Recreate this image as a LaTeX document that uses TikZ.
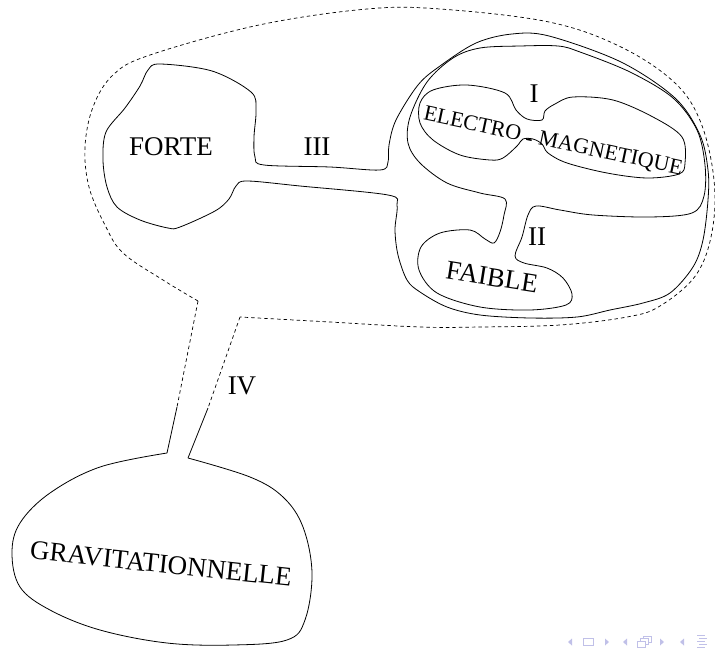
\documentclass[tikz,border=0pt]{standalone}
\usepackage{fontspec}
\setmainfont{Liberation Serif}
\usetikzlibrary{positioning}
\definecolor{navblue}{RGB}{192,192,232}
\tikzset{
  outline/.style={black, line width=0.8pt},
  boundary/.style={black, line width=0.7pt, dashed, dash pattern=on 3.5pt off 3pt},
  biglab/.style={font=\fontsize{27}{30}\selectfont, inner sep=0pt},
  emlab/.style={font=\fontsize{22}{25}\selectfont, inner sep=0pt},
  navsym/.style={navblue, line width=0.8pt},
}
\begin{document}
\begin{tikzpicture}[x=1pt,y=-1pt]
  \path[use as bounding box] (0,0) rectangle (715,648);

  % Forte blob, channel III and outer contour of the unified region.
  \draw[outline] plot[smooth cycle, tension=0.55] coordinates {
    (160,64) (212,71) (251,92) (256,110) (254,137) (255,157) (264,165)
    (330,167) (380,170) (388,162) (389,145) (396,120) (418,85) (440,66)
    (476,43) (512,34) (549,36) (621,62) (675,98) (700,135) (708,170)
    (708,200) (703,240) (693,267) (670,293) (643,303) (610,310) (577,317)
    (530,318) (480,315) (447,307) (420,292) (407,280) (398,255) (395,230)
    (397,205) (388,195) (300,186) (247,181) (236,186) (229,199) (215,211)
    (180,227) (168,228) (140,220) (117,207) (107,187) (103,160) (106,132)
    (125,108) (140,86) (148,70)};

  % Electroweak contour with channel II and the faible blob.
  \draw[outline] plot[smooth cycle, tension=0.55] coordinates {
    (408,143) (410,117) (427,82) (453,58) (480,48) (520,46) (558,46)
    (580,52) (630,72) (673,98) (697,130) (705,165) (704,196) (692,213)
    (650,217) (593,215) (560,210) (536,206) (528,215) (522,237) (515,256)
    (524,263) (547,268) (563,278) (572,294) (566,305) (530,310) (480,307)
    (437,293) (419,270) (421,247) (440,233) (470,230) (485,239) (494,243)
    (500,232) (504,215) (505,199) (480,193) (447,183) (420,163)};

  % Electro-magnetique dumbbell, neck I.
  \draw[outline] plot[smooth cycle, tension=0.55] coordinates {
    (420,103) (433,90) (467,85) (505,93) (516,110) (527,119) (542,120)
    (545,111) (555,104) (573,97) (613,100) (653,117) (682,137) (685,163)
    (679,174) (647,178) (607,173) (567,163) (548,153) (542,144) (533,139)
    (523,139) (517,146) (503,158) (490,160) (460,155) (433,140) (420,123)};

  % Dashed boundary around the three interactions.
  \coordinate (stemL) at (198,301);
  \coordinate (stemR) at (240,317);
  \draw[boundary] plot[smooth, tension=0.6] coordinates {
    (stemL) (163,280) (123,253) (105,225) (89,187) (85,147) (93,107)
    (113,75) (150,55) (259,25) (367,9) (440,9) (549,22) (621,47)
    (675,83) (701,123) (714,180) (712,232) (696,275) (660,306) (627,317)
    (560,325) (480,327) (420,327) (330,322) (stemR)};

  % Channel IV and the gravitational blob.
  \coordinate (midL) at (177,407);
  \coordinate (midR) at (208,408);
  \coordinate (footL) at (167,453);
  \coordinate (footR) at (188,458);
  \draw[boundary] (stemL) -- (midL);
  \draw[boundary] (stemR) -- (midR);
  \draw[outline] (midL) -- (footL);
  \draw[outline] (midR) -- (footR);
  \draw[outline] plot[smooth, tension=0.6] coordinates {
    (footL) (100,467) (50,493) (20,523) (12,553) (20,587) (50,610)
    (100,630) (167,643) (233,645) (287,640) (305,620) (312,573)
    (303,527) (283,497) (250,477) (footR)};

  % Labels.
  \node[biglab] (forte) at (171,147) {FORTE};
  \node[biglab] (three) at (317,147) {III};
  \node[biglab] (one) at (534,94) {I};
  \node[emlab, rotate=-12] (em) at (553,142) {ELECTRO \raisebox{-0.12em}{-} MAGNETIQUE};
  \node[biglab] (two) at (537,237) {II};
  \node[biglab, rotate=-9] (faible) at (492,277) {FAIBLE};
  \node[biglab] (four) at (242,386) {IV};
  \node[biglab, rotate=-6] (grav) at (161,564) {GRAVITATIONNELLE};

  % Navigation symbols.
  \foreach \xx in {570,625,682}
    \fill[navblue] (\xx+2,638.5) -- (\xx-2,642) -- (\xx+2,645.5) -- cycle;
  \foreach \xx in {607,662}
    \fill[navblue] (\xx-2,638.5) -- (\xx+2,642) -- (\xx-2,645.5) -- cycle;
  \draw[navsym] (583,638.5) rectangle (593,645.5);
  \draw[navsym, fill=white] (643,636) rectangle (651,642);
  \draw[navsym, fill=white] (640,638.5) rectangle (648,644.5);
  \draw[navsym, fill=white] (637,641) rectangle (645,647);
  \foreach \yy/\aa/\bb in {636/697/705,639/699/707,642/697/705,645/699/707,648/697/705}
    \draw[navsym, line width=0.6pt] (\aa,\yy-0.5) -- (\bb,\yy-0.5);
\end{tikzpicture}
\end{document}
